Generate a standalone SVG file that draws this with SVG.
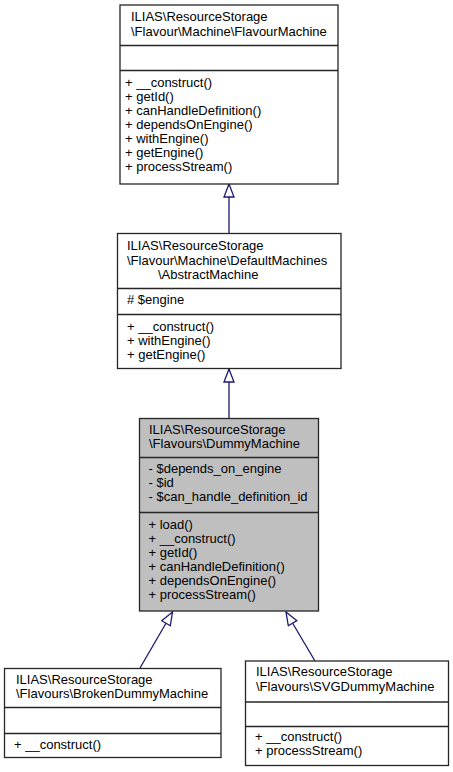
<svg xmlns="http://www.w3.org/2000/svg" width="453" height="772" viewBox="0 0 453 772">
<style>
text{font-family:"Liberation Sans",Arial,Helvetica,sans-serif;font-size:13px;fill:#000}
.box{fill:#fff;stroke:#262626;stroke-width:1.3}
.cur{fill:#bfbfbf;stroke:#262626;stroke-width:1.3}
.sep{stroke:#262626;stroke-width:1.3;fill:none}
.edge{stroke:#191970;stroke-width:1.3;fill:none;marker-end:url(#tri)}
</style>
<defs>
<marker id="tri" markerUnits="userSpaceOnUse" viewBox="0 0 15 12" markerWidth="15" markerHeight="12" refX="14" refY="6" orient="auto">
<path d="M1,1 L14,6 L1,11 Z" fill="#fff" stroke="#191970" stroke-width="1.3"/>
</marker>
</defs>
<rect width="453" height="772" fill="#fff"/>
<g id="connectors">
<path class="edge" d="M229,233 L229,184"/>
<path class="edge" d="M229,418 L229,369"/>
<path class="edge" d="M140,668 L172.5,612"/>
<path class="edge" d="M315,661 L286,612"/>
</g>
<g id="FlavourMachine">
<rect class="box" x="120" y="5" width="218" height="179"/>
<line class="sep" x1="120" y1="45.5" x2="338" y2="45.5"/>
<line class="sep" x1="120" y1="70.5" x2="338" y2="70.5"/>
<text x="131" y="21">ILIAS\ResourceStorage</text>
<text x="131" y="36">\Flavour\Machine\FlavourMachine</text>
<text x="125" y="87">+ __construct()</text>
<text x="125" y="101">+ getId()</text>
<text x="125" y="115">+ canHandleDefinition()</text>
<text x="125" y="129">+ dependsOnEngine()</text>
<text x="125" y="143">+ withEngine()</text>
<text x="125" y="157">+ getEngine()</text>
<text x="125" y="171">+ processStream()</text>
</g>
<g id="AbstractMachine">
<rect class="box" x="117.5" y="233.5" width="223.5" height="135"/>
<line class="sep" x1="117.5" y1="288.5" x2="341" y2="288.5"/>
<line class="sep" x1="117.5" y1="314.5" x2="341" y2="314.5"/>
<text x="127" y="250">ILIAS\ResourceStorage</text>
<text x="127" y="264.5">\Flavour\Machine\DefaultMachines</text>
<text x="158" y="279">\AbstractMachine</text>
<text x="127" y="304">#  $engine</text>
<text x="127" y="331">+ __construct()</text>
<text x="127" y="345">+ withEngine()</text>
<text x="127" y="359">+ getEngine()</text>
</g>
<g id="DummyMachine">
<rect class="cur" x="139.5" y="418.5" width="179" height="192.5"/>
<line class="sep" x1="139.5" y1="457.5" x2="318.5" y2="457.5"/>
<line class="sep" x1="139.5" y1="512.5" x2="318.5" y2="512.5"/>
<text x="149" y="433.5">ILIAS\ResourceStorage</text>
<text x="149" y="447.5">\Flavours\DummyMachine</text>
<text x="148.5" y="473">- $depends_on_engine</text>
<text x="148.5" y="487">- $id</text>
<text x="148.5" y="501">- $can_handle_definition_id</text>
<text x="148.5" y="529">+ load()</text>
<text x="148.5" y="543">+ __construct()</text>
<text x="148.5" y="557">+ getId()</text>
<text x="148.5" y="571">+ canHandleDefinition()</text>
<text x="148.5" y="585">+ dependsOnEngine()</text>
<text x="148.5" y="599">+ processStream()</text>
</g>
<g id="BrokenDummyMachine">
<rect class="box" x="4.5" y="668.5" width="216.5" height="89"/>
<line class="sep" x1="4.5" y1="707.5" x2="221" y2="707.5"/>
<line class="sep" x1="4.5" y1="733.5" x2="221" y2="733.5"/>
<text x="16" y="683.5">ILIAS\ResourceStorage</text>
<text x="16" y="698">\Flavours\BrokenDummyMachine</text>
<text x="14" y="748.5">+ __construct()</text>
</g>
<g id="SVGDummyMachine">
<rect class="box" x="245.5" y="661" width="203" height="104.5"/>
<line class="sep" x1="245.5" y1="702" x2="448.5" y2="702"/>
<line class="sep" x1="245.5" y1="726.5" x2="448.5" y2="726.5"/>
<text x="256" y="676">ILIAS\ResourceStorage</text>
<text x="256" y="691">\Flavours\SVGDummyMachine</text>
<text x="255" y="740.5">+ __construct()</text>
<text x="255" y="755">+ processStream()</text>
</g>
</svg>
